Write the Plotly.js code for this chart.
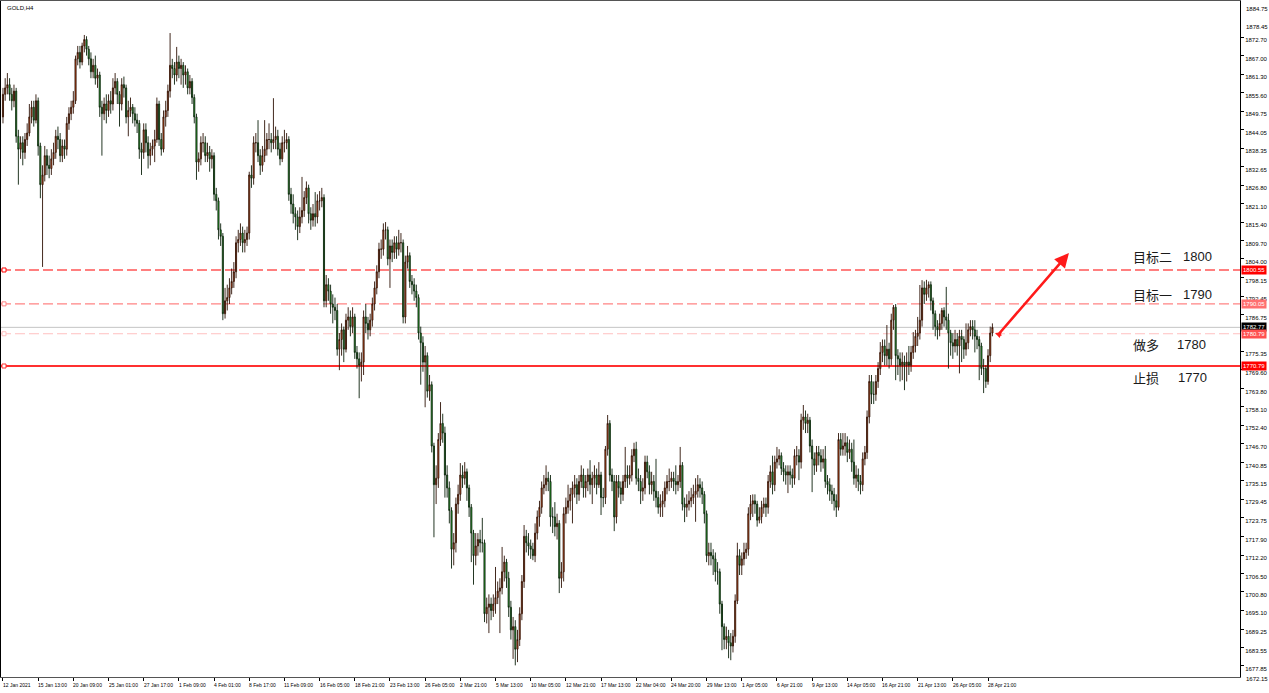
<!DOCTYPE html>
<html><head><meta charset="utf-8">
<script src="https://cdn.plot.ly/plotly-3.0.1.min.js"></script>
<style>html,body{margin:0;padding:0;background:#fff;overflow:hidden}#chart{width:1269px;height:693px}</style>
</head><body><div id="chart"></div>
<script>
const symbolTitle = "GOLD,H4";
const firstOpen = 1848;
const closes = [
1855,1857,1858,1855,1853,1856,1842,1838,1840,1837,
1841,1843,1848,1851,1847,1853,1839,1827,1830,1836,
1833,1832,1835,1837,1842,1841,1836,1839,1838,1846,
1849,1851,1853,1866,1868,1865,1870,1872,1869,1866,
1862,1864,1860,1861,1851,1849,1852,1850,1853,1852,
1857,1859,1855,1852,1858,1857,1848,1850,1851,1849,
1847,1846,1838,1837,1844,1840,1836,1838,1839,1841,
1852,1841,1838,1848,1850,1856,1864,1863,1861,1865,
1863,1864,1861,1862,1857,1859,1854,1848,1834,1835,
1840,1840,1836,1837,1835,1836,1824,1822,1813,1811,
1787,1791,1792,1795,1797,1800,1809,1810,1812,1809,
1810,1812,1830,1829,1840,1840,1836,1833,1836,1838,
1841,1841,1840,1841,1842,1838,1835,1840,1840,1841,
1824,1821,1818,1817,1814,1817,1819,1823,1826,1818,
1816,1818,1817,1822,1822,1823,1791,1796,1794,1790,
1789,1788,1776,1779,1782,1776,1785,1786,1783,1786,
1775,1773,1771,1772,1786,1784,1782,1785,1790,1795,
1800,1807,1807,1813,1813,1804,1808,1806,1809,1807,
1809,1809,1786,1803,1805,1797,1796,1794,1792,1781,
1778,1772,1774,1763,1765,1746,1734,1736,1748,1753,
1750,1737,1733,1726,1714,1716,1728,1731,1737,1736,
1738,1733,1727,1719,1712,1715,1717,1716,1716,1694,
1696,1697,1695,1697,1699,1701,1702,1707,1710,1705,
1696,1689,1690,1683,1686,1694,1704,1718,1716,1715,
1714,1712,1719,1724,1727,1733,1734,1736,1735,1724,
1724,1721,1722,1705,1707,1725,1727,1729,1731,1733,
1734,1731,1735,1737,1733,1735,1737,1734,1736,1737,
1734,1737,1730,1730,1745,1753,1737,1735,1724,1735,
1733,1731,1735,1737,1736,1737,1743,1745,1736,1735,
1732,1733,1741,1738,1734,1735,1732,1730,1727,1728,
1729,1733,1735,1735,1736,1735,1734,1735,1740,1728,
1727,1728,1729,1730,1731,1732,1734,1733,1731,1725,
1712,1713,1712,1711,1707,1707,1697,1690,1686,1687,
1685,1684,1687,1698,1712,1709,1711,1713,1714,1725,
1728,1729,1728,1723,1724,1727,1728,1727,1735,1738,
1734,1741,1742,1743,1739,1738,1737,1738,1737,1736,
1743,1743,1741,1754,1755,1753,1754,1746,1742,1740,
1744,1743,1741,1742,1735,1734,1732,1731,1729,1727,
1748,1745,1746,1747,1744,1745,1741,1736,1737,1735,
1734,1742,1744,1755,1766,1762,1762,1766,1770,1775,
1777,1774,1776,1773,1785,1789,1774,1773,1771,1772,
1771,1772,1771,1775,1777,1780,1781,1785,1795,1793,
1795,1796,1791,1787,1783,1782,1784,1788,1786,1785,
1781,1778,1777,1779,1777,1780,1779,1776,1778,1782,
1783,1782,1780,1779,1777,1770,1770,1766,1774,1781,
1782.77];
const highs = [
1857,1860,1861.6,1860,1857,1858,1857,1844,1842,1842,
1843,1846,1852,1853,1853,1855,1854,1840,1833,1839,
1838,1836,1838,1840,1844,1845,1843,1841,1841,1848,
1851,1853,1856,1867,1870,1870,1871,1873.4,1873,1870,
1868,1866,1867,1863,1862,1853,1854,1855,1855,1856,
1860,1861.6,1860,1856,1860,1860.5,1858,1853,1854,1852,
1851,1849,1847,1840,1846,1846,1842,1840,1841,1844,
1854,1853,1843,1850,1853,1858,1874,1866,1865,1869.7,
1867,1866,1865,1864,1863,1861,1860,1855,1849,1837,
1842,1843,1842,1840,1839,1838,1837,1826,1823,1815,
1812,1795,1796,1798,1801,1803,1811,1813,1815,1814,
1813,1814,1831,1833,1842,1843,1847,1838,1839,1847,
1843,1846,1843,1853.8,1845,1844,1840,1842,1844,1843,
1842,1826,1824,1820,1819,1820,1829.4,1825,1828,1827,
1820,1821,1824.7,1824,1825,1826,1824,1799,1798,1796,
1793,1792,1790,1781,1784,1783,1787,1789,1788,1789,
1787,1777,1775,1775,1788,1790,1786,1787,1792,1797,
1802,1809,1810,1815,1815.4,1814,1810,1810,1811,1811,
1813,1812,1810,1805,1808,1806,1799,1798,1796,1793,
1783,1780,1777,1775,1768,1766,1747,1740,1750,1759.6,
1756,1752,1740,1735,1727,1719,1730,1734,1740.7,1740,
1741,1739,1734,1728,1720,1719,1719,1720,1723.7,1717,
1699,1700,1699,1700,1708.5,1704,1705,1714.7,1712,1711,
1707,1698,1693,1692,1689,1696,1706,1721.5,1720,1719,
1717,1716,1722,1726,1729,1735,1737,1740,1738,1737,
1727,1728.6,1725,1723,1710,1727,1730,1734,1733,1735,
1737,1736,1737,1740,1739,1737,1739,1741.6,1738,1740,
1739,1741,1738,1733,1746,1755.6,1754,1739,1737,1737,
1737,1735,1737,1745.7,1740,1740,1745,1747,1747.3,1739,
1737,1736,1743,1743,1740,1738,1737,1742,1732,1731,
1732,1735,1737,1739,1738,1738,1740,1737,1745.7,1741,
1730,1731,1732,1733,1734,1736,1737,1736,1735,1732,
1726,1716,1716,1714,1713,1710,1708,1698,1691,1690,
1689,1688,1689,1700,1716,1714,1713,1716,1716,1727,
1730.8,1731,1731,1729,1727,1729,1730,1730,1737,1740,
1743,1743,1745.7,1745,1744,1741,1740,1740,1740,1739,
1745,1746,1745,1756,1758.7,1757,1756,1755,1748,1744,
1746,1746,1745,1745,1746,1737,1736,1734,1733,1731,
1750,1750,1750,1750,1749,1748,1747,1748,1740,1739,
1737,1744,1746,1757,1768,1768,1766,1768,1772,1778.2,
1779,1779,1783.5,1778,1787,1789.7,1790,1776,1775,1775,
1774,1775,1777,1777,1781.3,1782,1786,1795.9,1797.4,1797,
1797.5,1797,1797,1792,1788,1785,1787,1788.8,1789,1795.3,
1787,1782,1781,1782,1781,1782,1782,1780,1784,1784,
1785,1785,1785,1782,1780,1778,1773,1771,1776,1783,
1784];
const lows = [
1846,1853,1855,1853,1850,1851,1840,1827,1835,1833,
1835,1839,1842,1846,1845,1846,1836,1822.8,1801.5,1828,
1830,1829,1830,1833,1835,1838,1834,1834,1835,1836,
1844,1847,1849,1852,1864,1863,1864,1868,1867,1864,
1860,1860,1858,1857,1848,1836,1847,1846,1848,1849,
1850,1855,1852,1845,1850,1854,1846,1842,1848,1846,
1845,1843,1835,1830,1835,1837,1832,1833,1836,1834,
1840,1839,1836,1837,1845,1848,1854,1860,1858,1859,
1860,1858,1857,1858,1855,1855,1852,1846,1828.5,1831,
1833,1837,1834,1834,1831,1832,1822,1819,1810,1808,
1785,1785.5,1788,1790,1793,1795,1798,1806,1808,1806,
1806,1808,1810,1826,1827,1837,1834,1830,1831,1834,
1836,1838,1837,1838,1838,1836,1833,1834,1837,1838,
1822,1818,1815,1813,1809.8,1812,1815,1817,1821,1815,
1813,1814,1814,1815,1819,1820,1789,1789,1791,1787,
1784,1785,1774,1769.5,1774,1772,1775,1782,1780,1781,
1773,1770,1760.8,1766,1768,1781,1779,1780,1783,1788,
1793,1798,1804,1805,1810,1802,1795,1803,1804,1804,
1805,1806,1784,1784,1801,1795,1793,1791,1789,1779,
1765,1769,1758,1761,1760,1744,1717.7,1728,1733,1746,
1747,1730,1730,1722,1708,1709,1713,1725,1729,1733,
1734,1729,1724,1710,1703,1709,1712,1713,1713,1691.4,
1691,1688,1692,1693,1694,1697,1688,1700,1704,1702,
1693,1686,1680,1678,1679,1684,1692,1702,1713,1712,
1711,1710.6,1710,1717,1721,1725,1731,1732,1732,1721,
1719,1718,1717,1700.4,1702,1704,1722,1725,1726,1722,
1730,1728,1729,1733,1730,1730,1732,1731,1728,1733,
1731,1733,1724.6,1727,1728,1743,1735,1732,1719.6,1722,
1730,1728,1729,1733,1733,1734,1735,1741,1734,1732,
1728,1729,1731,1736,1731,1731,1729,1727,1725,1724,
1724,1727,1731,1732,1733,1732,1731,1732,1733,1726,
1722.4,1724,1726,1727,1728,1722.5,1730,1730,1728,1722,
1710,1709,1709,1706,1704,1703,1694,1682.7,1683,1683,
1680.2,1679.6,1682,1685,1697,1706,1706,1709,1711,1712,
1723,1724,1725,1721,1722,1722,1725,1724,1725,1733,
1731,1732,1739,1740,1737,1735,1734,1731.4,1734,1733,
1734,1740,1735.4,1739,1751,1750,1750,1744,1731.7,1737,
1738,1740,1738,1739,1733,1731,1729,1728,1726,1724,
1726,1743,1743,1743,1741,1742,1738,1734,1733,1732,
1731,1732,1740,1742,1753,1759,1759,1760,1764,1768,
1772,1771,1771,1770,1771,1782,1766.4,1768,1766,1766.4,
1763.3,1766,1768,1769,1773,1775,1777,1779,1783,1790,
1791,1792,1788,1782,1780,1779,1780,1782,1783,1782,
1770,1774,1773,1775,1774,1768.5,1772,1773,1774,1776,
1780,1779,1775,1776,1766.4,1768,1762.4,1764,1765,1772,
1780];
const timeLabels = ["12 Jan 2021","15 Jan 13:00","20 Jan 09:00","25 Jan 01:00","27 Jan 17:00","1 Feb 09:00","4 Feb 01:00","8 Feb 17:00","11 Feb 09:00","16 Feb 05:00","18 Feb 21:00","23 Feb 13:00","26 Feb 05:00","2 Mar 21:00","5 Mar 13:00","10 Mar 05:00","12 Mar 21:00","17 Mar 13:00","22 Mar 04:00","24 Mar 20:00","29 Mar 13:00","1 Apr 05:00","6 Apr 21:00","9 Apr 13:00","14 Apr 05:00","16 Apr 21:00","21 Apr 13:00","26 Apr 05:00","28 Apr 21:00"];
const barsPerLabel = 16;
const priceTicks = [1872.70,1867.00,1861.30,1855.60,1849.75,1844.05,1838.35,1832.65,1826.80,1821.10,1815.40,1809.70,1804.00,1798.15,1792.45,1786.75,1775.35,1769.60,1763.80,1758.10,1752.40,1746.70,1740.85,1735.15,1729.45,1723.75,1717.90,1712.20,1706.50,1700.80,1695.10,1689.25,1683.55,1677.85];
const edgeTicksTop = [1884.75, 1878.45];
const edgeTickBottom = 1672.15;
const levels = [1800.55, 1790.05, 1782.77, 1780.79, 1770.79];
const levelColors = ["#ff0000", "#ff8484", "#c4c4c4", "#ffc0c0", "#ff3030"];
const levelBoxColors = ["#ff0000", "#ff7070", "#000000", "#ff5050", "#ff0000"];
const levelDash = ["10px,4px", "10px,4px", "solid", "10px,4px", "solid"];
const levelWidth = [1.2, 1.1, 1, 1, 2];
const noteNames = ["目标二", "目标一", "做多", "止损"];
const noteValues = ["1800", "1790", "1780", "1770"];
const noteY = [1804.6, 1793.1, 1777.6, 1767.1];
const noteValueX = [535.8, 535.8, 532.9, 533.4];
const arrowFrom = [452.5, 1780.4];
const arrowTo = [484.8, 1805.8];

const xs = closes.map((_, i) => i);
const opens = closes.map((c, i) => i === 0 ? firstOpen : closes[i - 1]);
const hs = highs.map((h, i) => Math.max(h, opens[i], closes[i]));
const ls = lows.map((l, i) => Math.min(l, opens[i], closes[i]));

const shapes = levels.map((lv, k) => ({
  type: 'line', xref: 'paper', yref: 'y', x0: 0, x1: 1, y0: lv, y1: lv,
  line: {color: levelColors[k], width: levelWidth[k], dash: levelDash[k]}, layer: 'below'
}));
levels.forEach((lv, k) => {
  if (k === 2) return;
  shapes.push({type: 'rect', xref: 'paper', yref: 'y', xsizemode: 'pixel', ysizemode: 'pixel',
    xanchor: 0, yanchor: lv, x0: 1, x1: 5, y0: -2, y1: 2,
    line: {color: levelColors[k], width: 1}, fillcolor: '#ffffff'});
});

const axisFont = 'Liberation Sans, Arial, sans-serif';
const annotations = [];
annotations.push({xref: 'paper', yref: 'paper', x: 0.003, y: 0.997, xanchor: 'left', yanchor: 'top',
  text: symbolTitle, showarrow: false, font: {family: axisFont, size: 6, color: '#000'}});
timeLabels.forEach((t, k) => annotations.push({
  xref: 'x', yref: 'paper', x: k * barsPerLabel, y: 0, yshift: -3, xanchor: 'left', yanchor: 'top', xshift: -2,
  text: t, showarrow: false, font: {family: axisFont, size: 5, color: '#000'}
}));
const edgeTopPaperY = [0.9956, 0.9689];
edgeTicksTop.forEach((v, k) => annotations.push({xref: 'paper', yref: 'paper', x: 1, y: edgeTopPaperY[k],
  xanchor: 'left', xshift: 4, text: v.toFixed(2), showarrow: false,
  font: {family: axisFont, size: 6, color: '#000'}}));
annotations.push({xref: 'paper', yref: 'paper', x: 1, y: -0.0104, xanchor: 'left', xshift: 4,
  text: edgeTickBottom.toFixed(2), showarrow: false, font: {family: axisFont, size: 6, color: '#000'}});
levels.forEach((lv, k) => annotations.push({
  xref: 'paper', yref: 'y', x: 1, y: lv, xanchor: 'left', xshift: 1,
  text: lv.toFixed(2), showarrow: false, bgcolor: levelBoxColors[k], borderpad: 1,
  font: {family: axisFont, size: 6, color: '#fff'}
}));
noteNames.forEach((n, k) => {
  annotations.push({xref: 'x', yref: 'y', x: 513.2, y: noteY[k], xanchor: 'left', showarrow: false,
    text: n, font: {family: 'Noto Sans CJK SC', size: 13, color: '#1a1a1a'}});
  annotations.push({xref: 'x', yref: 'y', x: noteValueX[k], y: noteY[k], xanchor: 'left', showarrow: false,
    text: noteValues[k], font: {family: 'Liberation Sans, Arial', size: 13, color: '#1a1a1a'}});
});
annotations.push({xref: 'x', yref: 'y', axref: 'x', ayref: 'y', x: arrowTo[0], y: arrowTo[1],
  ax: arrowFrom[0], ay: arrowFrom[1], text: '', showarrow: true, arrowhead: 2, arrowsize: 1.1,
  arrowwidth: 2.6, arrowcolor: '#ff1a1a', standoff: 0, startstandoff: 0});
annotations.push({xref: 'x', yref: 'y', axref: 'x', ayref: 'y', x: 451.2, y: 1781.0,
  ax: 454.8, ay: 1780.1, text: '', showarrow: true, arrowhead: 2, arrowsize: 0.8,
  arrowwidth: 1.5, arrowcolor: '#ff1a1a', standoff: 0});

const trace = {
  type: 'candlestick', x: xs, open: opens, high: hs, low: ls, close: closes,
  increasing: {line: {color: '#2e1206', width: 0.9}, fillcolor: '#f0561a'},
  decreasing: {line: {color: '#0b200b', width: 0.9}, fillcolor: '#2fd12f'},
  whiskerwidth: 0, hoverinfo: 'skip', showlegend: false
};

const layout = {
  width: 1269, height: 693, margin: {l: 1, r: 29, t: 1, b: 16},
  paper_bgcolor: '#ffffff', plot_bgcolor: '#ffffff', showlegend: false,
  font: {family: axisFont, size: 6, color: '#000'},
  xaxis: {range: [-0.9, 562.6], showgrid: false, zeroline: false, showline: true, linecolor: '#555',
    linewidth: 1, mirror: true, tickvals: timeLabels.map((_, k) => k * barsPerLabel), ticks: 'outside',
    ticklen: 3, tickcolor: '#000', showticklabels: false, rangeslider: {visible: false}, fixedrange: true},
  yaxis: {side: 'right', range: [1674.39, 1883.93], showgrid: false, zeroline: false, showline: true,
    linecolor: '#000', linewidth: 1, mirror: true, tickvals: priceTicks, ticktext: priceTicks.map(v => v.toFixed(2)),
    ticks: 'outside', ticklen: 3, tickcolor: '#000', ticklabelshift: 3,
    tickfont: {family: axisFont, size: 6, color: '#000'}, fixedrange: true},
  shapes: shapes, annotations: annotations
};
Plotly.newPlot('chart', [trace], layout, {displayModeBar: false, staticPlot: true});
</script>
</body></html>
